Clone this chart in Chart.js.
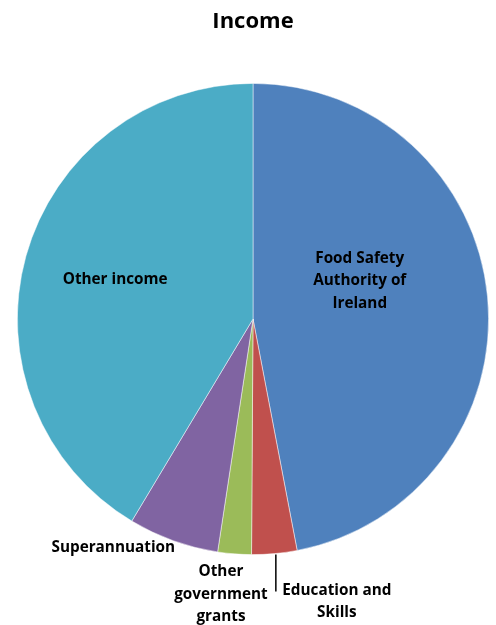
<!DOCTYPE html>
<html>
<head>
<meta charset="utf-8">
<script src="https://cdn.jsdelivr.net/npm/chart.js@4"></script>
<style>
  html, body { margin: 0; padding: 0; background: #fff; }
  #wrap { width: 496px; height: 625px; position: relative; }
</style>
</head>
<body>
<div id="wrap"><canvas id="pieChart" width="496" height="625"></canvas></div>
<script>
const chartTitle = 'Income';
const categories = ['Food Safety Authority of Ireland', 'Education and Skills', 'Other government grants', 'Superannuation', 'Other income'];
const shares = [47.0, 3.1, 2.3, 6.2, 41.4];
const sliceColors = ['#4F81BD', '#C0504D', '#9BBB59', '#8064A2', '#4BACC6'];

// label lines and where they sit, in units of the pie radius from its centre
const labelLines = [
    ['Food Safety', 'Authority of', 'Ireland'],
    ['Education and', 'Skills'],
    ['Other', 'government', 'grants'],
    ['Superannuation'],
    ['Other income']
];
const labelSpots = [
    { x: 0.453, y: -0.161 },
    { x: 0.356, y: 1.199 },
    { x: -0.136, y: 1.169 },
    { x: -0.593, y: 0.970 },
    { x: -0.585, y: -0.169 }
];

const labelFont = 'bold 15.3px "Open Sans", Lato, sans-serif';
const lineGap = 22.5;

// draws the title, slice labels and the one leader line
const labelPlugin = {
    id: 'pieLabels',
    afterDraw(chart) {
        const ctx = chart.ctx;
        const arc = chart.getDatasetMeta(0).data[0];
        const cx = arc.x, cy = arc.y, r = arc.outerRadius;

        ctx.save();
        ctx.fillStyle = '#000';
        ctx.textAlign = 'center';
        ctx.textBaseline = 'middle';
        ctx.font = 'bold 22px "Open Sans", Lato, sans-serif';
        ctx.fillText(chartTitle, cx, 22);

        ctx.font = labelFont;
        labelLines.forEach((lines, i) => {
            const px = cx + labelSpots[i].x * r;
            const py = cy + labelSpots[i].y * r;
            const top = py - (lines.length - 1) * lineGap / 2;
            lines.forEach((t, j) => ctx.fillText(t, px, top + j * lineGap));
        });

        // leader line for Education and Skills
        ctx.strokeStyle = '#000';
        ctx.lineWidth = 1.5;
        ctx.beginPath();
        ctx.moveTo(cx + 0.097 * r, cy + 1.0 * r);
        ctx.lineTo(cx + 0.097 * r, cy + 1.157 * r);
        ctx.stroke();
        ctx.restore();
    }
};

const pieChart = new Chart(document.getElementById('pieChart'), {
    type: 'pie',
    data: {
        labels: categories,
        datasets: [{
            data: shares,
            backgroundColor: sliceColors,
            borderColor: 'rgba(255,255,255,0.6)',
            borderWidth: 0.8
        }]
    },
    options: {
        responsive: false,
        animation: false,
        layout: { padding: { left: 17, right: 7, top: 83, bottom: 70 } },
        plugins: {
            legend: { display: false },
            tooltip: { enabled: false }
        }
    },
    plugins: [labelPlugin]
});
</script>
</body>
</html>
